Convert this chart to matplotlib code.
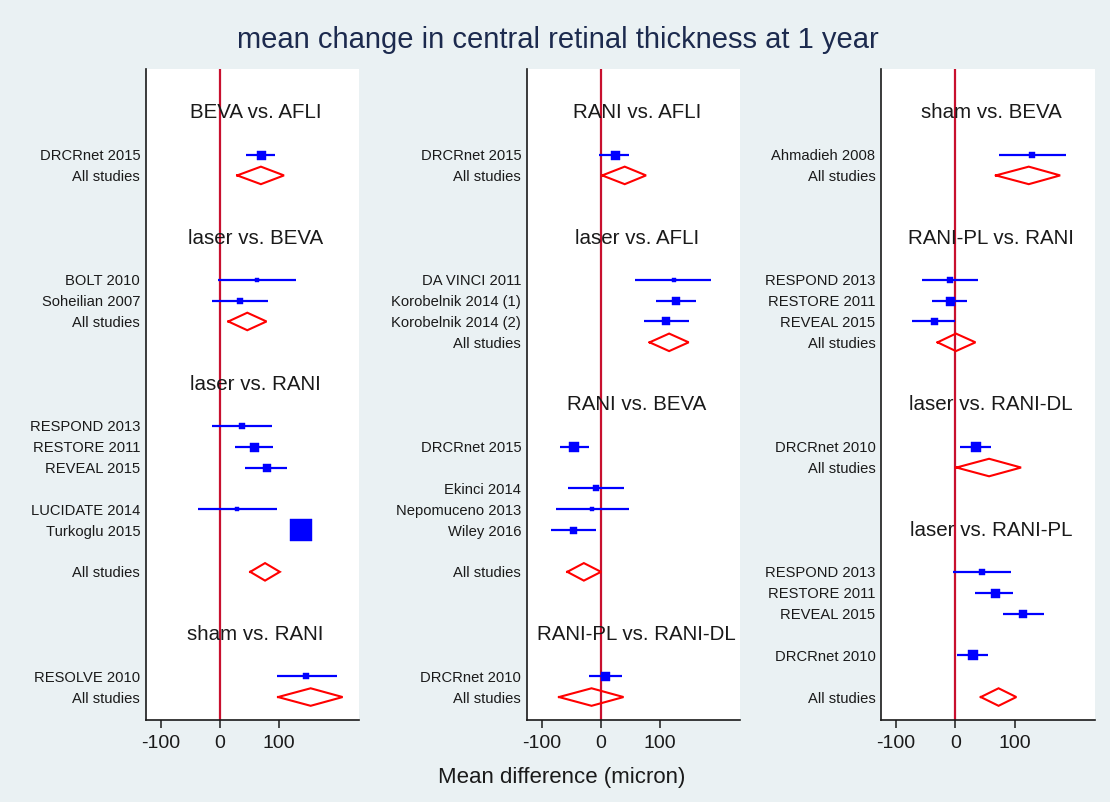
import matplotlib
matplotlib.use("Agg")
import matplotlib.pyplot as plt

plt.rcParams['font.family'] = ['Liberation Sans', 'DejaVu Sans']

# ---------------- data ----------------
# Panel 1
p1_groups = ["BEVA vs. AFLI", "laser vs. BEVA", "laser vs. RANI", "sham vs. RANI"]
p1_studies = ["DRCRnet 2015", "BOLT 2010", "Soheilian 2007", "RESPOND 2013", "RESTORE 2011",
              "REVEAL 2015", "LUCIDATE 2014", "Turkoglu 2015", "RESOLVE 2010"]
p1_mean = [69, 63, 34, 37, 58, 78.5, 29, 137, 146]
p1_low = [43.5, -3, -13.5, -13.5, 26, 42, -37, 131, 97]
p1_high = [93, 128, 81, 87, 90, 113.5, 95.5, 143, 197]
p1_weight = [9, 5, 6, 6, 9, 8, 5, 22, 6]
p1_pool_mean = [69, 46, 76, 153]
p1_pool_low = [29, 14, 51, 98]
p1_pool_high = [108, 78.5, 101, 207]

# Panel 2
p2_groups = ["RANI vs. AFLI", "laser vs. AFLI", "RANI vs. BEVA", "RANI-PL vs. RANI-DL"]
p2_studies = ["DRCRnet 2015", "DA VINCI 2011", "Korobelnik 2014 (1)", "Korobelnik 2014 (2)",
              "DRCRnet 2015", "Ekinci 2014", "Nepomuceno 2013", "Wiley 2016", "DRCRnet 2010"]
p2_mean = [23, 123, 127, 110, -45.5, -9, -15, -47, 7]
p2_low = [-3, 58, 92, 73, -70, -55, -76, -85, -21]
p2_high = [48, 186.5, 161, 148, -21, 38, 47, -9, 35]
p2_weight = [9, 5, 7.5, 7.5, 10, 6, 5, 7, 9]
p2_pool_mean = [40, 115, -29, -16]
p2_pool_low = [2, 82, -57, -71]
p2_pool_high = [76, 148, 0, 38]

# Panel 3
p3_groups = ["sham vs. BEVA", "RANI-PL vs. RANI", "laser vs. RANI-DL", "laser vs. RANI-PL"]
p3_studies = ["Ahmadieh 2008", "RESPOND 2013", "RESTORE 2011", "REVEAL 2015", "DRCRnet 2010",
              "RESPOND 2013", "RESTORE 2011", "REVEAL 2015", "DRCRnet 2010"]
p3_mean = [130, -8.5, -9, -36.5, 35, 45.5, 67, 114, 29]
p3_low = [74, -56, -39, -72.5, 8, -4.5, 34, 80, 2]
p3_high = [186.5, 39, 20, -1, 61, 94, 98, 149, 55]
p3_weight = [6, 6, 9, 7, 10, 6, 9, 8, 10]
p3_pool_mean = [124, 1, 57, 73]
p3_pool_low = [68.5, -30, 2, 43]
p3_pool_high = [177, 34, 111, 103]

pooled_label = "All studies"
x_ticks = [-100, 0, 100]
title = "mean change in central retinal thickness at 1 year"
xlabel = "Mean difference (micron)"

# ---------------- layout (row indices) ----------------
p1_group_rows = [0, 6, 13, 25]
p1_study_rows = [2, 8, 9, 15, 16, 17, 19, 20, 27]
p1_pool_rows = [3, 10, 22, 28]

p2_group_rows = [0, 6, 14, 25]
p2_study_rows = [2, 8, 9, 10, 16, 18, 19, 20, 27]
p2_pool_rows = [3, 11, 22, 28]

p3_group_rows = [0, 6, 14, 20]
p3_study_rows = [2, 8, 9, 10, 16, 22, 23, 24, 26]
p3_pool_rows = [3, 11, 17, 28]

panels = [
    (p1_groups, p1_group_rows, p1_studies, p1_study_rows, p1_mean, p1_low, p1_high, p1_weight,
     p1_pool_rows, p1_pool_mean, p1_pool_low, p1_pool_high),
    (p2_groups, p2_group_rows, p2_studies, p2_study_rows, p2_mean, p2_low, p2_high, p2_weight,
     p2_pool_rows, p2_pool_mean, p2_pool_low, p2_pool_high),
    (p3_groups, p3_group_rows, p3_studies, p3_study_rows, p3_mean, p3_low, p3_high, p3_weight,
     p3_pool_rows, p3_pool_mean, p3_pool_low, p3_pool_high),
]

BG = '#eaf1f3'
W, H = 1110, 802
fig = plt.figure(figsize=(W / 100, H / 100), dpi=100, facecolor=BG)

lefts_px = [145.7, 526.7, 881.0]
width_px = 213.5
top_px, bottom_px = 69, 720
px = 0.72  # points per pixel

for (groups, grows, studies, srows, mean, low, high, weight,
     prows, pmean, plow, phigh), lpx in zip(panels, lefts_px):
    ax = fig.add_axes([lpx / W, 1 - bottom_px / H, width_px / W, (bottom_px - top_px) / H])
    ax.set_facecolor('white')
    ax.set_xlim(-125.5, 235)
    ax.set_ylim(29.1, -2.1)

    ax.axvline(0, color='#c8102e', lw=1.6, zorder=1)

    # study CIs and markers
    for r, m, lo, hi, w in zip(srows, mean, low, high, weight):
        ax.plot([lo, hi], [r, r], color='#0000ff', lw=1.6, solid_capstyle='butt', zorder=2)
        ax.plot([m], [r], marker='s', ms=w * px, color='#0000ff', mec='#0000ff', mew=0.3,
                zorder=3)

    # pooled diamonds
    h = 0.42
    for r, m, lo, hi in zip(prows, pmean, plow, phigh):
        ax.plot([lo, m, hi, m, lo], [r, r - h, r, r + h, r], color='#ff0000', lw=1.5,
                solid_joinstyle='miter', zorder=3)

    # group headers
    for g, r in zip(groups, grows):
        ax.text(0.515, r, g, transform=ax.get_yaxis_transform(), ha='center', va='center',
                fontsize=14.8, color='#1a1a1a')

    # y labels
    yt = list(srows) + list(prows)
    yl = list(studies) + [pooled_label] * len(prows)
    ax.set_yticks(yt)
    ax.set_yticklabels(yl, fontsize=10.6, color='#1a1a1a')
    ax.tick_params(axis='y', length=0, pad=4)

    ax.set_xticks(x_ticks)
    ax.set_xticklabels([str(t) for t in x_ticks], fontsize=14, color='#1a1a1a')
    ax.tick_params(axis='x', length=6, width=1.1, pad=5, color='#1a1a1a')

    for s in ['top', 'right']:
        ax.spines[s].set_visible(False)
    for s in ['left', 'bottom']:
        ax.spines[s].set_color('#1a1a1a')
        ax.spines[s].set_linewidth(1.2)

fig.text(0.503, 1 - 40 / H, title, ha='center', va='center', fontsize=21, color='#1c2a4e')
fig.text(0.506, 1 - 777 / H, xlabel, ha='center', va='center', fontsize=16, color='#1a1a1a')

fig.savefig('out.png', dpi=100, facecolor=BG)
